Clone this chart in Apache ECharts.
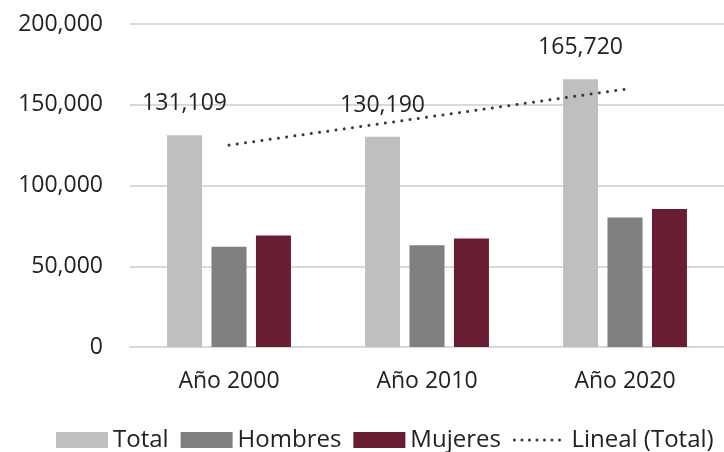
<!DOCTYPE html>
<html>
<head>
<meta charset="utf-8">
<script src="https://cdn.jsdelivr.net/npm/echarts@6/dist/echarts.min.js"></script>
<style>
  html, body { margin: 0; padding: 0; background: #fff; }
  #chart { width: 724px; height: 452px; }
</style>
</head>
<body>
<div id="chart"></div>
<script>
const categories = ['Año 2000', 'Año 2010', 'Año 2020']
const totalValues = [131109, 130190, 165720]
const hombresValues = [62000, 63000, 80200]
const mujeresValues = [69100, 67190, 85500]
// trend line values
const linealValues = [125000, 142300, 159600]
const yTicks = { min: 0, max: 200000, interval: 50000 }

const fontFamily = '"Open Sans", "Liberation Sans", Arial, sans-serif'
const textColor = '#222222'
const fontSize = 23

const fmt = v => Number(v).toLocaleString('en-US')

const chart = echarts.init(document.getElementById('chart'), null, { renderer: 'canvas' })

chart.setOption({
  animation: false,
  textStyle: { fontFamily: fontFamily, color: textColor },
  grid: { left: 130, top: 24, width: 598, bottom: 105, containLabel: false },
  legend: {
    left: 51,
    top: 423,
    itemWidth: 52,
    itemHeight: 16,
    itemGap: 12,
    textStyle: { fontFamily: fontFamily, fontSize: 24, color: textColor },
    data: [
      { name: 'Total', icon: 'rect' },
      { name: 'Hombres', icon: 'rect' },
      { name: 'Mujeres', icon: 'rect' },
      {
        name: 'Lineal (Total)',
        itemStyle: { opacity: 0 },
        lineStyle: { width: 3, type: [0.01, 7.5], cap: 'round' }
      }
    ]
  },
  xAxis: {
    type: 'category',
    data: categories,
    axisTick: { show: false },
    axisLine: { lineStyle: { color: '#d9d9d9', width: 2 } },
    axisLabel: { margin: 23, fontSize: fontSize, color: textColor, fontFamily: fontFamily }
  },
  yAxis: {
    type: 'value',
    min: yTicks.min,
    max: yTicks.max,
    interval: yTicks.interval,
    axisLine: { show: false },
    axisTick: { show: false },
    splitLine: { lineStyle: { color: '#d9d9d9', width: 2 } },
    axisLabel: { margin: 27, fontSize: fontSize, color: textColor, fontFamily: fontFamily, formatter: fmt }
  },
  series: [
    {
      name: 'Total',
      type: 'bar',
      data: totalValues,
      barWidth: 35,
      barGap: '27%',
      itemStyle: { color: '#bfbfbf' },
      label: {
        show: true,
        position: 'top',
        distance: 20,
        fontSize: fontSize,
        lineHeight: 23,
        color: textColor,
        fontFamily: fontFamily,
        formatter: p => fmt(p.value)
      }
    },
    {
      name: 'Hombres',
      type: 'bar',
      data: hombresValues,
      barWidth: 35,
      barGap: '27%',
      itemStyle: { color: '#7f7f7f' }
    },
    {
      name: 'Mujeres',
      type: 'bar',
      data: mujeresValues,
      barWidth: 35,
      barGap: '27%',
      itemStyle: { color: '#691c32' }
    },
    {
      name: 'Lineal (Total)',
      type: 'line',
      data: linealValues,
      symbol: 'none',
      z: 5,
      lineStyle: { color: '#2e3b4e', width: 3, type: [0.01, 8.3], cap: 'round' },
      itemStyle: { color: '#2e3b4e' }
    }
  ]
})
</script>
</body>
</html>
